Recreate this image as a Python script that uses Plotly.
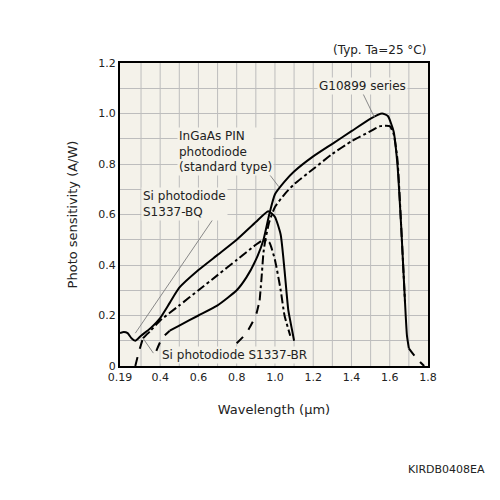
import plotly.graph_objects as go

bq_x = [0.19, 0.21, 0.23, 0.25, 0.27, 0.30, 0.35, 0.40, 0.45, 0.50, 0.60, 0.70, 0.80, 0.90, 0.965, 1.00, 1.03, 1.05, 1.07, 1.09, 1.10]
bq_y = [0.13, 0.135, 0.13, 0.11, 0.10, 0.12, 0.15, 0.19, 0.25, 0.31, 0.38, 0.44, 0.50, 0.57, 0.613, 0.59, 0.52, 0.38, 0.22, 0.14, 0.10]

br_dash_x = [0.27, 0.29, 0.31]
br_dash_y = [0.0, 0.06, 0.11]
br_x = [0.31, 0.35, 0.40, 0.50, 0.60, 0.70, 0.80, 0.90, 0.94, 0.97, 1.00, 1.03, 1.05, 1.08]
br_y = [0.11, 0.14, 0.18, 0.24, 0.30, 0.36, 0.42, 0.48, 0.50, 0.49, 0.42, 0.30, 0.20, 0.12]

g_dash_x = [0.38, 0.41, 0.45]
g_dash_y = [0.06, 0.11, 0.14]
g_x = [0.45, 0.50, 0.60, 0.70, 0.80, 0.85, 0.90, 0.94, 0.97, 1.00, 1.05, 1.10, 1.20, 1.30, 1.40, 1.50, 1.56, 1.59, 1.62, 1.64, 1.66, 1.68, 1.69, 1.70]
g_y = [0.14, 0.16, 0.20, 0.24, 0.30, 0.35, 0.42, 0.50, 0.60, 0.68, 0.73, 0.77, 0.83, 0.88, 0.93, 0.98, 1.00, 0.99, 0.93, 0.80, 0.55, 0.25, 0.12, 0.07]
g_tail_x = [1.70, 1.74, 1.78]
g_tail_y = [0.07, 0.03, 0.0]

ig_dash_x = [0.80, 0.85, 0.90, 0.92]
ig_dash_y = [0.09, 0.13, 0.20, 0.26]
ig_x = [0.92, 0.93, 0.94, 0.95, 0.97, 1.00, 1.05, 1.10, 1.20, 1.30, 1.40, 1.50, 1.55, 1.60, 1.62, 1.64, 1.66, 1.68]
ig_y = [0.26, 0.35, 0.45, 0.50, 0.57, 0.63, 0.68, 0.72, 0.78, 0.84, 0.89, 0.93, 0.95, 0.95, 0.92, 0.82, 0.55, 0.25]

x_ticks = [0.19, 0.4, 0.6, 0.8, 1.0, 1.2, 1.4, 1.6, 1.8]
x_labels = ["0.19", "0.4", "0.6", "0.8", "1.0", "1.2", "1.4", "1.6", "1.8"]
y_ticks = [0, 0.2, 0.4, 0.6, 0.8, 1.0, 1.2]
y_labels = ["0", "0.2", "0.4", "0.6", "0.8", "1.0", "1.2"]

fig = go.Figure()
def add(x, y, dash):
    fig.add_trace(go.Scatter(x=x, y=y, mode="lines", line=dict(color="black", width=2, dash=dash, shape="spline", smoothing=0.5), showlegend=False, hoverinfo="skip"))

add(bq_x, bq_y, "solid")
add(br_dash_x, br_dash_y, "dash")
add(br_x, br_y, "dashdot")
add(g_dash_x, g_dash_y, "dash")
add(g_x, g_y, "solid")
add(g_tail_x, g_tail_y, "dash")
add(ig_dash_x, ig_dash_y, "dash")
add(ig_x, ig_y, "dashdot")

for v in [i / 10 for i in range(3, 18)]:
    fig.add_vline(x=v, line=dict(color="#bdbdbd", width=1), layer="below")

f = dict(family="DejaVu Sans", size=12, color="#222")
def lab(text, x, y, ax, ay, tx, ty, anchor="left"):
    fig.add_annotation(x=x, y=y, ax=ax, ay=ay, axref="x", ayref="y", showarrow=True, arrowhead=0, arrowwidth=1, arrowcolor="#888", text="")
    fig.add_annotation(x=tx, y=ty, text=text, showarrow=False, xanchor=anchor, yanchor="middle", align="left", font=f, bgcolor="#f4f2ea")

lab("G10899 series", 1.52, 0.985, 1.44, 1.11, 1.22, 1.11)
lab("InGaAs PIN<br>photodiode<br>(standard type)", 1.02, 0.71, 0.95, 0.78, 0.49, 0.85)
lab("Si photodiode<br>S1337-BQ", 0.27, 0.13, 0.72, 0.63, 0.30, 0.64)
lab("Si photodiode S1337-BR", 0.31, 0.11, 0.37, 0.045, 0.40, 0.045)

fig.add_annotation(x=1, y=1, xref="paper", yref="paper", xanchor="right", yanchor="bottom", yshift=4, text="(Typ. Ta=25 °C)", showarrow=False, font=f)
fig.add_annotation(x=1.19, y=-0.37, xref="paper", yref="paper", xanchor="right", text="KIRDB0408EA", showarrow=False, font=dict(family="DejaVu Sans", size=11, color="#222"))

fig.update_layout(
    width=500, height=500, margin=dict(l=112, r=80, t=55, b=142),
    paper_bgcolor="white", plot_bgcolor="#f4f2ea",
    font=f,
    xaxis=dict(range=[0.19, 1.8], tickvals=x_ticks, ticktext=x_labels, showgrid=False,
               showline=True, linecolor="black", linewidth=2, mirror=True, ticks="",
               tickfont=dict(size=11),
               title=dict(text="Wavelength (μm)", font=dict(size=13), standoff=22), zeroline=False),
    yaxis=dict(range=[0, 1.2], tickvals=y_ticks, ticktext=y_labels, showgrid=True,
               gridcolor="#bdbdbd", showline=True, linecolor="black", linewidth=2, mirror=True, ticks="",
               tickfont=dict(size=11),
               minor=dict(dtick=0.1, showgrid=True, gridcolor="#bdbdbd"),
               title=dict(text="Photo sensitivity (A/W)", font=dict(size=13), standoff=18), zeroline=False),
)
fig.write_html("out.html")
